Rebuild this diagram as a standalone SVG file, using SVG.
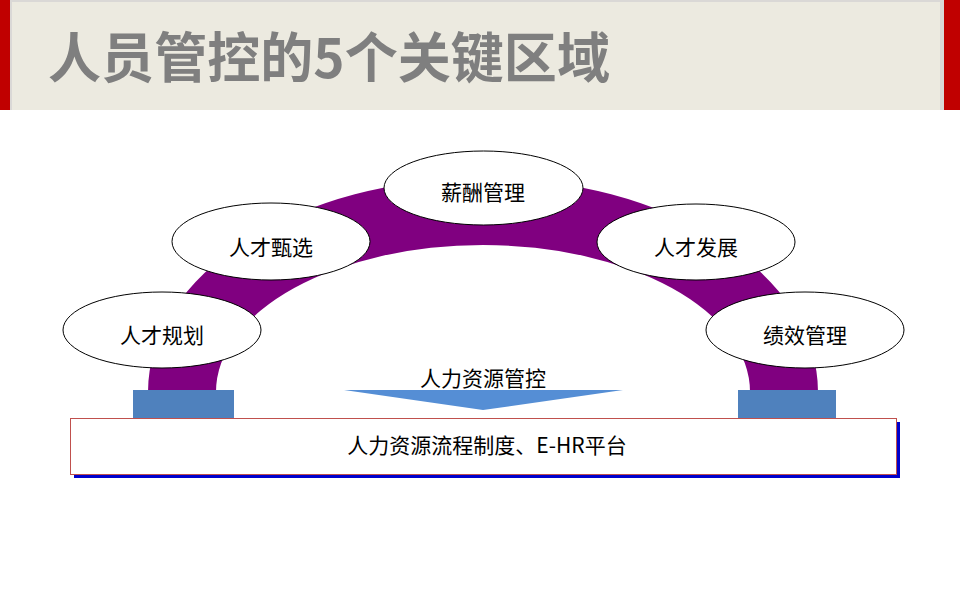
<svg xmlns="http://www.w3.org/2000/svg" width="960" height="600" viewBox="0 0 960 600">
  <style>
    .node ellipse { fill: #FFFFFF; stroke: #000000; stroke-width: 1; }
    .lbl { font-family: "Noto Sans CJK SC", "Microsoft YaHei", sans-serif; font-size: 21px; fill: #000000; text-anchor: middle; }
    .title { font-family: "Noto Sans CJK SC", sans-serif; font-weight: bold; font-size: 54px; fill: #7F7F7F; }
    .base { fill: #4F81BD; }
  </style>
  <rect x="0" y="0" width="960" height="600" fill="#FFFFFF"/>
  <!-- header -->
  <g id="header">
    <rect x="0" y="0" width="10" height="110" fill="#C00000"/>
    <rect x="944" y="0" width="16" height="110" fill="#C00000"/>
    <rect x="10" y="0" width="934" height="110" fill="#DAD8D6"/>
    <rect x="12" y="2" width="928" height="108" fill="#ECEAE0"/>
    <text class="title" x="48" y="78" textLength="562" lengthAdjust="spacingAndGlyphs">人员管控的5个关键区域</text>
  </g>
  <!-- arch -->
  <g id="arch">
    <path d="M 148 392 A 335 214 0 0 1 818 392 L 750 392 A 267 147 0 0 0 216 392 Z" fill="#800080"/>
  </g>
  <g id="pillar-left"><rect class="base" x="133" y="390" width="101" height="28"/></g>
  <g id="pillar-right"><rect class="base" x="738" y="390" width="98" height="28"/></g>
  <!-- platform -->
  <g id="platform">
    <rect x="74" y="422" width="826" height="56" fill="#0000CC"/>
    <rect x="70.5" y="418.5" width="826" height="56" fill="#FFFFFF" stroke="#C0504D" stroke-width="1"/>
    <text class="lbl" x="487" y="453">人力资源流程制度、E-HR平台</text>
  </g>
  <!-- connectors -->
  <g id="connectors">
    <polygon points="344,390 623,390 483,410" fill="#558ED5"/>
    <text class="lbl" x="483" y="386">人力资源管控</text>
  </g>
  <!-- nodes -->
  <g id="node-planning" class="node">
    <ellipse cx="162" cy="330" rx="99" ry="38"/>
    <text class="lbl" x="162" y="343">人才规划</text>
  </g>
  <g id="node-selection" class="node">
    <ellipse cx="271" cy="241.5" rx="99" ry="38.5"/>
    <text class="lbl" x="271" y="255">人才甄选</text>
  </g>
  <g id="node-compensation" class="node">
    <ellipse cx="483.5" cy="188" rx="99.5" ry="37"/>
    <text class="lbl" x="483" y="200">薪酬管理</text>
  </g>
  <g id="node-development" class="node">
    <ellipse cx="696" cy="242" rx="99" ry="38"/>
    <text class="lbl" x="696" y="255">人才发展</text>
  </g>
  <g id="node-performance" class="node">
    <ellipse cx="805" cy="330" rx="99" ry="38"/>
    <text class="lbl" x="805" y="343">绩效管理</text>
  </g>
</svg>
